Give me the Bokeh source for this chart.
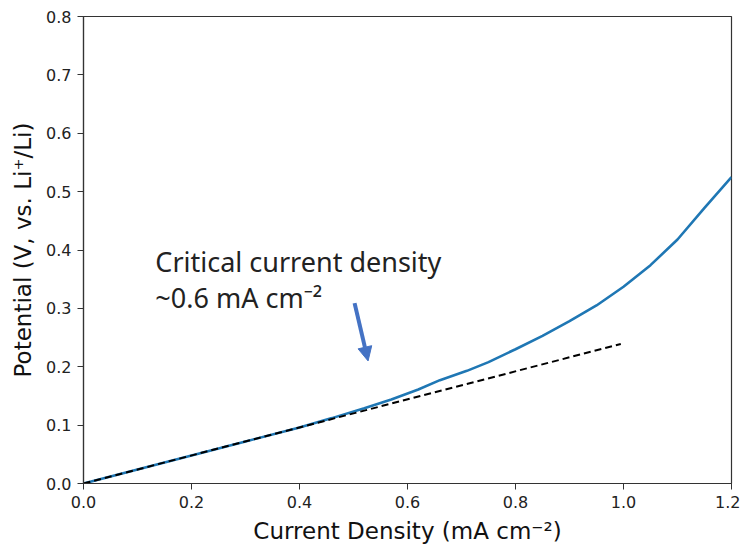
from bokeh.plotting import figure
from bokeh.models import Range1d, Arrow, NormalHead, FixedTicker, PrintfTickFormatter
from bokeh.core.properties import value
from bokeh.embed import file_html
from bokeh.resources import INLINE

# Data
current = [0.0, 0.1, 0.2, 0.3, 0.4, 0.46, 0.52, 0.57, 0.62, 0.66, 0.71, 0.75,
           0.8, 0.85, 0.9, 0.95, 1.0, 1.05, 1.1, 1.15, 1.2]
potential = [0.0, 0.024, 0.048, 0.072, 0.096, 0.112, 0.129, 0.144, 0.161, 0.177,
             0.193, 0.208, 0.230, 0.253, 0.278, 0.305, 0.337, 0.374, 0.418, 0.472, 0.525]
fit_x = [0.0, 0.995]
fit_y = [0.0, 0.239]
x_ticks = [0.0, 0.2, 0.4, 0.6, 0.8, 1.0, 1.2]
y_ticks = [0.0, 0.1, 0.2, 0.3, 0.4, 0.5, 0.6, 0.7, 0.8]
note_lines = ["Critical current density", "~0.6 mA cm\u207b\u00b2"]

p = figure(width=740, height=546, output_backend="svg", toolbar_location=None,
           x_range=Range1d(0, 1.2), y_range=Range1d(0, 0.8),
           min_border_left=83, min_border_right=9, min_border_top=16,
           min_border_bottom=62)
p.background_fill_color = "white"
p.border_fill_color = "white"
p.outline_line_color = "#333333"
p.outline_line_width = 1.2
p.xgrid.visible = False
p.ygrid.visible = False

for ax in (p.xaxis[0], p.yaxis[0]):
    ax.axis_line_color = "#333333"
    ax.axis_line_width = 1.2
    ax.major_tick_line_color = "#333333"
    ax.major_tick_out = 6
    ax.major_tick_in = 0
    ax.minor_tick_line_color = None
    ax.major_label_text_font = "DejaVu Sans"
    ax.major_label_text_font_size = "16px"
    ax.major_label_text_color = "#222222"
    ax.axis_label_text_font = "DejaVu Sans"
    ax.axis_label_text_font_size = "23px"
    ax.axis_label_text_font_style = "normal"
    ax.axis_label_text_color = "#111111"
    ax.axis_label_standoff = 7
    ax.formatter = PrintfTickFormatter(format="%.1f")

p.xaxis.ticker = FixedTicker(ticks=x_ticks)
p.yaxis.ticker = FixedTicker(ticks=y_ticks)
p.xaxis.axis_label = "Current Density (mA cm\u207b\u00b2)"
p.yaxis.axis_label = "Potential (V, vs. Li\u207a/Li)"
p.xaxis.major_label_standoff = 6
p.yaxis.major_label_standoff = 6

p.line(current, potential, line_color="#1f77b4", line_width=2.6)
p.line(fit_x, fit_y, line_color="black", line_width=2, line_dash="7 4")

p.text(x=[0.133, 0.133], y=[0.3795, 0.318], text=note_lines,
       text_font=value("Noto Sans"), text_font_size="27px", text_color="#222222",
       text_baseline="alphabetic")

p.add_layout(Arrow(end=NormalHead(size=14, fill_color="#4472C4", line_color="#4472C4"),
                   x_start=0.502, y_start=0.309, x_end=0.527, y_end=0.21,
                   line_color="#4472C4", line_width=4))

open("out.html", "w").write(file_html(p, INLINE))
